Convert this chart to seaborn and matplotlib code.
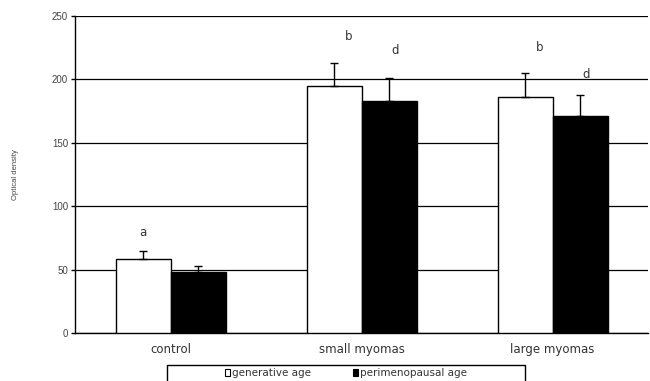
import numpy as np
import pandas as pd
import matplotlib
matplotlib.use("Agg")
import matplotlib.pyplot as plt
import seaborn as sns
from matplotlib.patches import Rectangle, Patch

# --- data ---
groups = ["control", "small myomas", "large myomas"]
series = ["generative age", "perimenopausal age"]
generative = [58, 195, 186]
perimeno = [48, 183, 171]
generative_err = [7, 18, 19]
perimeno_err = [5, 18, 17]
letters_gen = ["a", "b", "b"]
letters_gen_y = [79, 234, 225]
letters_per = ["", "d", "d"]
letters_per_y = [0, 223, 204]
yticks = [0, 50, 100, 150, 200, 250]

df = pd.DataFrame({
    "group": groups * 2,
    "age": [series[0]] * 3 + [series[1]] * 3,
    "value": generative + perimeno,
})

sns.set_style("white")
plt.rcParams["font.family"] = ["Liberation Sans", "DejaVu Sans"]

fig = plt.figure(figsize=(6.5, 3.81), dpi=100)
ax = fig.add_axes([0.1154, 0.126, 0.8816, 0.832])

sns.barplot(data=df, x="group", y="value", hue="age", order=groups,
            hue_order=series, palette=["white", "black"], width=0.576,
            gap=0, edgecolor="black", linewidth=1, errorbar=None,
            legend=False, ax=ax, zorder=3)

# error bars (upper only) at bar centres
errs = generative_err + perimeno_err
vals = generative + perimeno
for patch, v, e in zip(ax.patches, vals, errs):
    xc = patch.get_x() + patch.get_width() / 2
    ax.errorbar(xc, v, yerr=[[0], [e]], fmt="none", ecolor="black",
                elinewidth=1, capsize=3, capthick=1, zorder=4)

# significance letters
bars_gen = ax.patches[:3]
bars_per = ax.patches[3:6]
for p, t, y in zip(bars_gen, letters_gen, letters_gen_y):
    ax.text(p.get_x() + p.get_width() * 0.5 + (0.075 if t == "b" else 0), y, t,
            ha="center", va="center", fontsize=8.5, color="#333333",
            family="DejaVu Sans")
for p, t, y in zip(bars_per, letters_per, letters_per_y):
    if t:
        ax.text(p.get_x() + p.get_width() * 0.5 + 0.03, y, t, ha="center",
                va="center", fontsize=8.5, color="#333333", family="DejaVu Sans")

ax.set_ylim(0, 250)
ax.set_xlim(-0.5, 2.5)
ax.set_yticks(yticks)
ax.yaxis.grid(True, color="black", linewidth=0.9)
ax.set_axisbelow(True)
for s in ["top", "right"]:
    ax.spines[s].set_visible(False)
ax.spines["left"].set_color("black")
ax.spines["bottom"].set_color("black")
ax.spines["left"].set_linewidth(1)
ax.spines["bottom"].set_linewidth(1)
ax.tick_params(axis="y", direction="out", length=3, width=1, color="black",
               labelsize=7, labelcolor="#444444", pad=2, left=True)
ax.tick_params(axis="x", length=0, labelsize=8.5, labelcolor="#333333", pad=7)
for lbl in ax.get_xticklabels():
    lbl.set_family("DejaVu Sans")
ax.set_xlabel("")
ax.set_ylabel("Optical density", fontsize=5.5, color="#444444", labelpad=24)

# legend with wide frame
fig.patches.append(Rectangle((167 / 650, -0.01), 358 / 650, (381 - 365) / 381 + 0.01,
                             transform=fig.transFigure, facecolor="white",
                             edgecolor="black", linewidth=1))
handles = [Patch(facecolor="white", edgecolor="black", linewidth=0.8),
           Patch(facecolor="black", edgecolor="black", linewidth=0.8)]
leg = fig.legend(handles, series, loc="center", bbox_to_anchor=(346 / 650, 8 / 381),
                 ncol=2, frameon=False, handlelength=0.5, handleheight=0.6,
                 handletextpad=0.2, columnspacing=4.0, borderpad=0,
                 prop={"family": "DejaVu Sans", "size": 7.5})
for t in leg.get_texts():
    t.set_color("#333333")

fig.savefig("out.png", dpi=100)
